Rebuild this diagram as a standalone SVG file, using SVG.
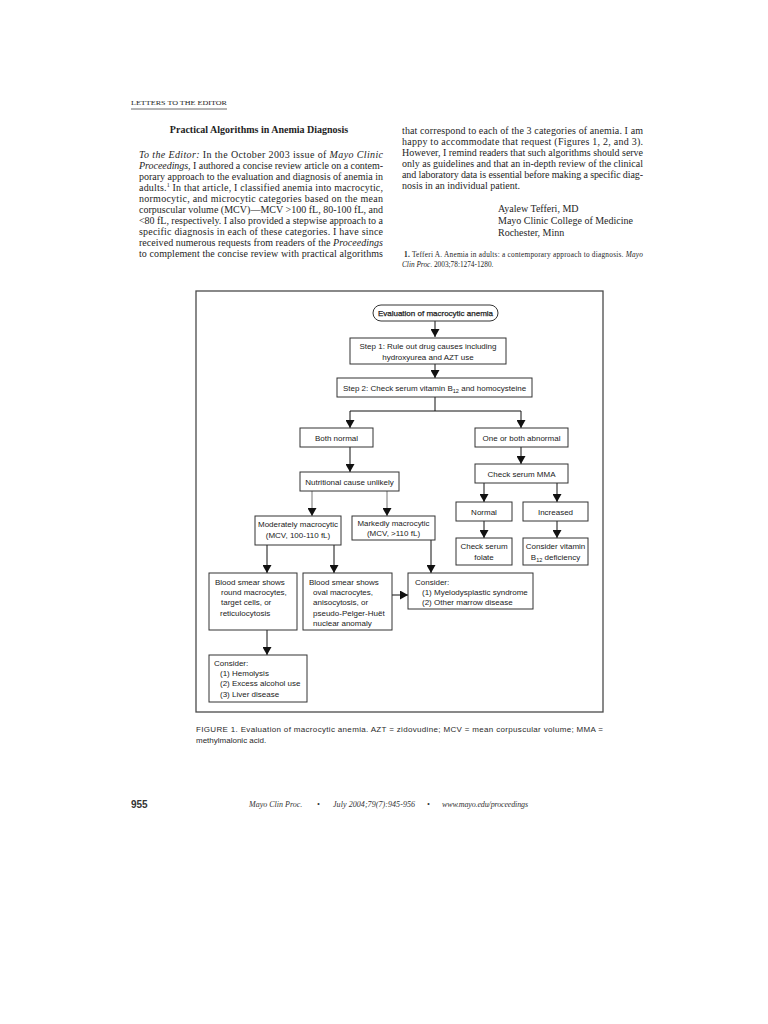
<svg xmlns="http://www.w3.org/2000/svg" width="768" height="1024" viewBox="0 0 768 1024">
<defs>
<style>
.bg{fill:#ffffff}
.body{font-family:"Liberation Serif","Times New Roman",serif;font-size:10px;fill:#1e1e1e}
.it{font-style:italic}
.title{font-family:"Liberation Serif","Times New Roman",serif;font-size:10px;font-weight:bold;fill:#1e1e1e}
.ref{font-family:"Liberation Serif","Times New Roman",serif;font-size:7.3px;fill:#1e1e1e}
.sc{font-family:"Liberation Serif","Times New Roman",serif;font-size:6.8px;fill:#1e1e1e}
.fc{font-family:"Liberation Sans",Arial,sans-serif;font-size:8px;fill:#222}
.mid{text-anchor:middle}
.box{fill:#fff;stroke:#333;stroke-width:1}
.frame{fill:none;stroke:#4a4a4a;stroke-width:1.3}
.con{fill:none;stroke:#111;stroke-width:1}
.con2{fill:none;stroke:#777;stroke-width:1}
.cap{font-family:"Liberation Sans",Arial,sans-serif;font-size:8px;fill:#2a2a2a}
.foot{font-family:"Liberation Serif","Times New Roman",serif;font-size:8px;font-style:italic;fill:#333}
.pg{font-family:"Liberation Sans",Arial,sans-serif;font-size:10px;font-weight:bold;fill:#333}
</style>
<marker id="ah" viewBox="0 0 8 9" refX="8" refY="4.5" markerWidth="8" markerHeight="9" markerUnits="userSpaceOnUse" orient="auto">
<path d="M0,0 L8,4.5 L0,9 Z" fill="#111"/>
</marker>
</defs>
<rect class="bg" x="0" y="0" width="768" height="1024"/>

<g id="header">
<text class="sc" x="131" y="105" textLength="96" lengthAdjust="spacingAndGlyphs">LETTERS TO THE EDITOR</text>
<line x1="131" y1="109" x2="227" y2="109" stroke="#444" stroke-width="0.8"/>
<text class="title mid" x="259" y="133">Practical Algorithms in Anemia Diagnosis</text>
</g>

<g id="left-column">
<text class="body" x="139" y="157.5" textLength="244" lengthAdjust="spacing"><tspan class="it">To the Editor:</tspan> In the October 2003 issue of <tspan class="it">Mayo Clinic</tspan></text>
<text class="body" x="139" y="168.5" textLength="244" lengthAdjust="spacing"><tspan class="it">Proceedings</tspan>, I authored a concise review article on a contem-</text>
<text class="body" x="139" y="179.5" textLength="244" lengthAdjust="spacing">porary approach to the evaluation and diagnosis of anemia in</text>
<text class="body" x="139" y="190.5" textLength="244" lengthAdjust="spacing">adults.<tspan font-size="6" dy="-3.5">1</tspan><tspan dy="3.5"> In that article, I classified anemia into macrocytic,</tspan></text>
<text class="body" x="139" y="201.5" textLength="244" lengthAdjust="spacing">normocytic, and microcytic categories based on the mean</text>
<text class="body" x="139" y="212.5" textLength="244" lengthAdjust="spacing">corpuscular volume (MCV)—MCV &gt;100 fL, 80-100 fL, and</text>
<text class="body" x="139" y="223.5" textLength="244" lengthAdjust="spacing">&lt;80 fL, respectively. I also provided a stepwise approach to a</text>
<text class="body" x="139" y="234.5" textLength="244" lengthAdjust="spacing">specific diagnosis in each of these categories. I have since</text>
<text class="body" x="139" y="245.5" textLength="244" lengthAdjust="spacing">received numerous requests from readers of the <tspan class="it">Proceedings</tspan></text>
<text class="body" x="139" y="256.5" textLength="244" lengthAdjust="spacing">to complement the concise review with practical algorithms</text>
</g>

<g id="right-column">
<text class="body" x="402" y="133.5" textLength="241" lengthAdjust="spacing">that correspond to each of the 3 categories of anemia. I am</text>
<text class="body" x="402" y="144.5" textLength="241" lengthAdjust="spacing">happy to accommodate that request (Figures 1, 2, and 3).</text>
<text class="body" x="402" y="155.5" textLength="241" lengthAdjust="spacing">However, I remind readers that such algorithms should serve</text>
<text class="body" x="402" y="166.5" textLength="241" lengthAdjust="spacing">only as guidelines and that an in-depth review of the clinical</text>
<text class="body" x="402" y="177.5" textLength="241" lengthAdjust="spacing">and laboratory data is essential before making a specific diag-</text>
<text class="body" x="402" y="188.5">nosis in an individual patient.</text>
<text class="body" x="498" y="212">Ayalew Tefferi, MD</text>
<text class="body" x="498" y="224">Mayo Clinic College of Medicine</text>
<text class="body" x="498" y="235.5">Rochester, Minn</text>
<text class="ref" x="404" y="256.5" textLength="239" lengthAdjust="spacing"><tspan font-weight="bold">1.</tspan>  Tefferi A. Anemia in adults: a contemporary approach to diagnosis. <tspan class="it">Mayo</tspan></text>
<text class="ref" x="402" y="266.5"><tspan class="it">Clin Proc</tspan>. 2003;78:1274-1280.</text>
</g>

<rect id="figure-frame" class="frame" x="196" y="291" width="407" height="421"/>

<g id="connectors">
<path class="con" d="M435,321 V337" marker-end="url(#ah)"/>
<path class="con" d="M435,364 V378" marker-end="url(#ah)"/>
<path class="con" d="M435,397 V411 H350 V428" marker-end="url(#ah)"/>
<path class="con" d="M435,411 H521 V428" marker-end="url(#ah)"/>
<path class="con" d="M350,447 V472" marker-end="url(#ah)"/>
<path class="con" d="M521,447 V464" marker-end="url(#ah)"/>
<path class="con" d="M484,483 V502" marker-end="url(#ah)"/>
<path class="con" d="M557,483 V502" marker-end="url(#ah)"/>
<path class="con" d="M484,521 V538" marker-end="url(#ah)"/>
<path class="con" d="M557,521 V538" marker-end="url(#ah)"/>
<path class="con2" d="M312,491 V516" marker-end="url(#ah)"/>
<path class="con2" d="M387,491 V516" marker-end="url(#ah)"/>
<path class="con" d="M267,545 V573" marker-end="url(#ah)"/>
<path class="con" d="M334,545 V573" marker-end="url(#ah)"/>
<path class="con" d="M431,540 V573" marker-end="url(#ah)"/>
<path class="con" d="M392,595 H408" marker-end="url(#ah)"/>
<path class="con" d="M267,630 V655" marker-end="url(#ah)"/>
</g>

<g id="n-start">
<rect class="box" x="373" y="305" width="125" height="16" rx="8"/>
<text class="fc mid" x="435.5" y="316" stroke="#222" stroke-width="0.25">Evaluation of macrocytic anemia</text>
</g>
<g id="n-step1">
<rect class="box" x="350" y="338" width="156" height="26"/>
<text class="fc mid" x="428" y="349">Step 1: Rule out drug causes including</text>
<text class="fc mid" x="428" y="359.5">hydroxyurea and AZT use</text>
</g>
<g id="n-step2">
<rect class="box" x="337" y="378" width="195" height="19"/>
<text class="fc mid" x="434.5" y="390.5">Step 2: Check serum vitamin B<tspan font-size="5.6" dy="2">12</tspan><tspan dy="-2"> and homocysteine</tspan></text>
</g>
<g id="n-both-normal">
<rect class="box" x="300" y="428" width="73" height="19"/>
<text class="fc mid" x="336.5" y="440.5">Both normal</text>
</g>
<g id="n-abnormal">
<rect class="box" x="475" y="428" width="93" height="19"/>
<text class="fc mid" x="521.5" y="440.5">One or both abnormal</text>
</g>
<g id="n-nutritional">
<rect class="box" x="300" y="472" width="99" height="19"/>
<text class="fc mid" x="349.5" y="484.5">Nutritional cause unlikely</text>
</g>
<g id="n-mma">
<rect class="box" x="475" y="464" width="93" height="19"/>
<text class="fc mid" x="521.5" y="476.5">Check serum MMA</text>
</g>
<g id="n-normal">
<rect class="box" x="456" y="502" width="56" height="19"/>
<text class="fc mid" x="484" y="514.5">Normal</text>
</g>
<g id="n-increased">
<rect class="box" x="523" y="502" width="65" height="19"/>
<text class="fc mid" x="555.5" y="514.5">Increased</text>
</g>
<g id="n-folate">
<rect class="box" x="456" y="538" width="56" height="27"/>
<text class="fc mid" x="484" y="549">Check serum</text>
<text class="fc mid" x="484" y="559.5">folate</text>
</g>
<g id="n-b12">
<rect class="box" x="523" y="538" width="65" height="27"/>
<text class="fc mid" x="555.5" y="549">Consider vitamin</text>
<text class="fc mid" x="555.5" y="559.5">B<tspan font-size="5.6" dy="2">12</tspan><tspan dy="-2"> deficiency</tspan></text>
</g>
<g id="n-moderate">
<rect class="box" x="255" y="516" width="86" height="29"/>
<text class="fc mid" x="298" y="527">Moderately macrocytic</text>
<text class="fc mid" x="298" y="537.5">(MCV, 100-110 fL)</text>
</g>
<g id="n-marked">
<rect class="box" x="352" y="516" width="83" height="24"/>
<text class="fc mid" x="393.5" y="526" textLength="72" lengthAdjust="spacingAndGlyphs">Markedly macrocytic</text>
<text class="fc mid" x="393.5" y="535.5">(MCV, &gt;110 fL)</text>
</g>
<g id="n-smear-round">
<rect class="box" x="209" y="573" width="88" height="57"/>
<text class="fc" x="215" y="585">Blood smear shows</text>
<text class="fc" x="221" y="595">round macrocytes,</text>
<text class="fc" x="221" y="605">target cells, or</text>
<text class="fc" x="220" y="615.5">reticulocytosis</text>
</g>
<g id="n-smear-oval">
<rect class="box" x="303" y="573" width="89" height="57"/>
<text class="fc" x="309" y="585">Blood smear shows</text>
<text class="fc" x="313" y="595">oval macrocytes,</text>
<text class="fc" x="313" y="605">anisocytosis, or</text>
<text class="fc" x="313" y="615.5">pseudo-Pelger-Huët</text>
<text class="fc" x="313" y="626">nuclear anomaly</text>
</g>
<g id="n-consider-mds">
<rect class="box" x="408" y="573" width="125" height="36"/>
<text class="fc" x="415" y="585">Consider:</text>
<text class="fc" x="422" y="594.5">(1) Myelodysplastic syndrome</text>
<text class="fc" x="422" y="604.5">(2) Other marrow disease</text>
</g>
<g id="n-consider-hemolysis">
<rect class="box" x="209" y="655" width="98" height="47"/>
<text class="fc" x="214" y="666">Consider:</text>
<text class="fc" x="220" y="676">(1) Hemolysis</text>
<text class="fc" x="220" y="686">(2) Excess alcohol use</text>
<text class="fc" x="220" y="696.5">(3) Liver disease</text>
</g>

<g id="caption">
<text class="cap" x="196" y="732" textLength="407" lengthAdjust="spacing">FIGURE 1. Evaluation of macrocytic anemia. AZT = zidovudine; MCV = mean corpuscular volume; MMA =</text>
<text class="cap" x="196" y="743">methylmalonic acid.</text>
</g>

<g id="footer">
<text class="pg" x="131" y="808">955</text>
<text class="foot" x="249" y="807">Mayo Clin Proc.</text>
<text class="foot" x="317" y="807">•</text>
<text class="foot" x="333" y="807" textLength="82" lengthAdjust="spacing">July 2004;79(7):945-956</text>
<text class="foot" x="427" y="807">•</text>
<text class="foot" x="442" y="807" textLength="86" lengthAdjust="spacing">www.mayo.edu/proceedings</text>
</g>
</svg>
